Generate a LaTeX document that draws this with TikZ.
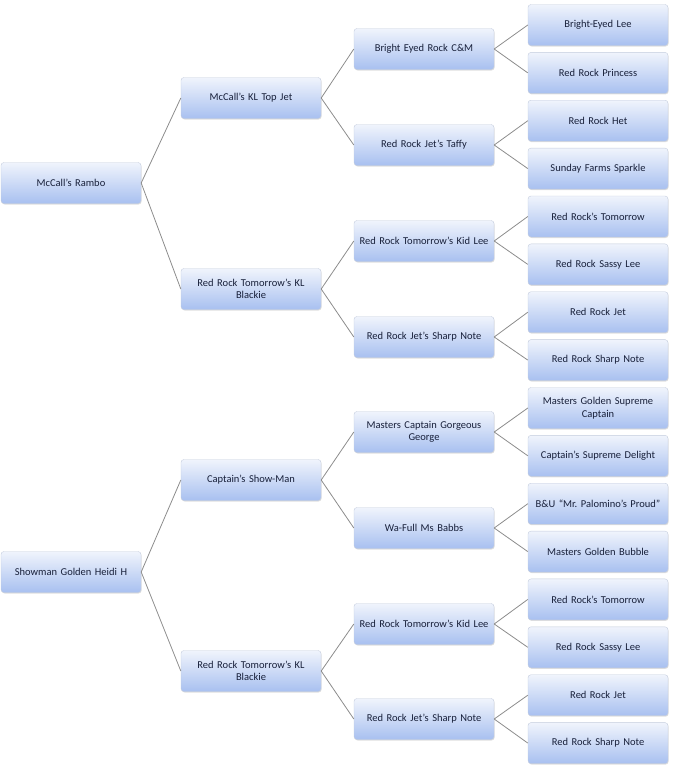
\documentclass[tikz,border=0pt]{standalone}
\usepackage{fontspec}
\setmainfont{Carlito}
\usetikzlibrary{shadows}
\definecolor{boxtop}{HTML}{F0F4FC}
\definecolor{boxbot}{HTML}{A8C0F0}
\definecolor{boxline}{HTML}{C3CCDD}
\definecolor{linkgray}{HTML}{8C8C8C}
\definecolor{namecol}{HTML}{18203A}
\begin{document}
\begin{tikzpicture}[
 x=1pt,y=-1pt,
 horse/.style={rectangle,rounded corners=3pt,draw=boxline,top color=boxtop,bottom color=boxbot,
  minimum width=140pt,minimum height=41pt,text width=136pt,align=center,inner sep=2pt,
  text=namecol,font=\fontsize{10.5}{12.5}\selectfont,
  drop shadow={opacity=0.25,shadow xshift=0.6pt,shadow yshift=-1pt}},
 link/.style={draw=linkgray,line width=0.8pt}
]
 \useasboundingbox (0,0) rectangle (681,777);
 % sires and dams, first line
 \node[horse] (r) at (71,183) {McCall’s Rambo};
 \node[horse] (s) at (251,98) {McCall’s KL Top Jet};
 \node[horse] (d) at (251,289) {Red Rock Tomorrow’s KL\\Blackie};
 \node[horse] (ss) at (424,49) {Bright Eyed Rock C\&M};
 \node[horse] (sd) at (424,145) {Red Rock Jet’s Taffy};
 \node[horse] (ds) at (424,241) {Red Rock Tomorrow’s Kid Lee};
 \node[horse] (dd) at (424,337) {Red Rock Jet’s Sharp Note};
 \node[horse] (sss) at (598,25) {Bright-Eyed Lee};
 \node[horse] (ssd) at (598,72.9) {Red Rock Princess};
 \node[horse] (sds) at (598,120.7) {Red Rock Het};
 \node[horse] (sdd) at (598,168.6) {Sunday Farms Sparkle};
 \node[horse] (dss) at (598,216.5) {Red Rock’s Tomorrow};
 \node[horse] (dsd) at (598,264.4) {Red Rock Sassy Lee};
 \node[horse] (dds) at (598,312.2) {Red Rock Jet};
 \node[horse] (ddd) at (598,360.1) {Red Rock Sharp Note};
 % second line
 \node[horse] (h) at (71,572) {Showman Golden Heidi H};
 \node[horse] (hs) at (251,480) {Captain’s Show-Man};
 \node[horse] (hd) at (251,671) {Red Rock Tomorrow’s KL\\Blackie};
 \node[horse] (hss) at (424,432) {Masters Captain Gorgeous\\George};
 \node[horse] (hsd) at (424,528) {Wa-Full Ms Babbs};
 \node[horse] (hds) at (424,624) {Red Rock Tomorrow’s Kid Lee};
 \node[horse] (hdd) at (424,719) {Red Rock Jet’s Sharp Note};
 \node[horse] (hsss) at (598,408) {Masters Golden Supreme\\Captain};
 \node[horse] (hssd) at (598,455.8) {Captain’s Supreme Delight};
 \node[horse] (hsds) at (598,503.7) {B\&U “Mr.\ Palomino’s Proud”};
 \node[horse] (hsdd) at (598,551.6) {Masters Golden Bubble};
 \node[horse] (hdss) at (598,599.4) {Red Rock’s Tomorrow};
 \node[horse] (hdsd) at (598,647.3) {Red Rock Sassy Lee};
 \node[horse] (hdds) at (598,695.2) {Red Rock Jet};
 \node[horse] (hddd) at (598,743.1) {Red Rock Sharp Note};
 % links
 \draw[link] (r.east)--(s.west);
 \draw[link] (r.east)--(d.west);
 \draw[link] (s.east)--(ss.west);
 \draw[link] (s.east)--(sd.west);
 \draw[link] (d.east)--(ds.west);
 \draw[link] (d.east)--(dd.west);
 \draw[link] (ss.east)--(sss.west);
 \draw[link] (ss.east)--(ssd.west);
 \draw[link] (sd.east)--(sds.west);
 \draw[link] (sd.east)--(sdd.west);
 \draw[link] (ds.east)--(dss.west);
 \draw[link] (ds.east)--(dsd.west);
 \draw[link] (dd.east)--(dds.west);
 \draw[link] (dd.east)--(ddd.west);
 \draw[link] (h.east)--(hs.west);
 \draw[link] (h.east)--(hd.west);
 \draw[link] (hs.east)--(hss.west);
 \draw[link] (hs.east)--(hsd.west);
 \draw[link] (hd.east)--(hds.west);
 \draw[link] (hd.east)--(hdd.west);
 \draw[link] (hss.east)--(hsss.west);
 \draw[link] (hss.east)--(hssd.west);
 \draw[link] (hsd.east)--(hsds.west);
 \draw[link] (hsd.east)--(hsdd.west);
 \draw[link] (hds.east)--(hdss.west);
 \draw[link] (hds.east)--(hdsd.west);
 \draw[link] (hdd.east)--(hdds.west);
 \draw[link] (hdd.east)--(hddd.west);
\end{tikzpicture}
\end{document}
